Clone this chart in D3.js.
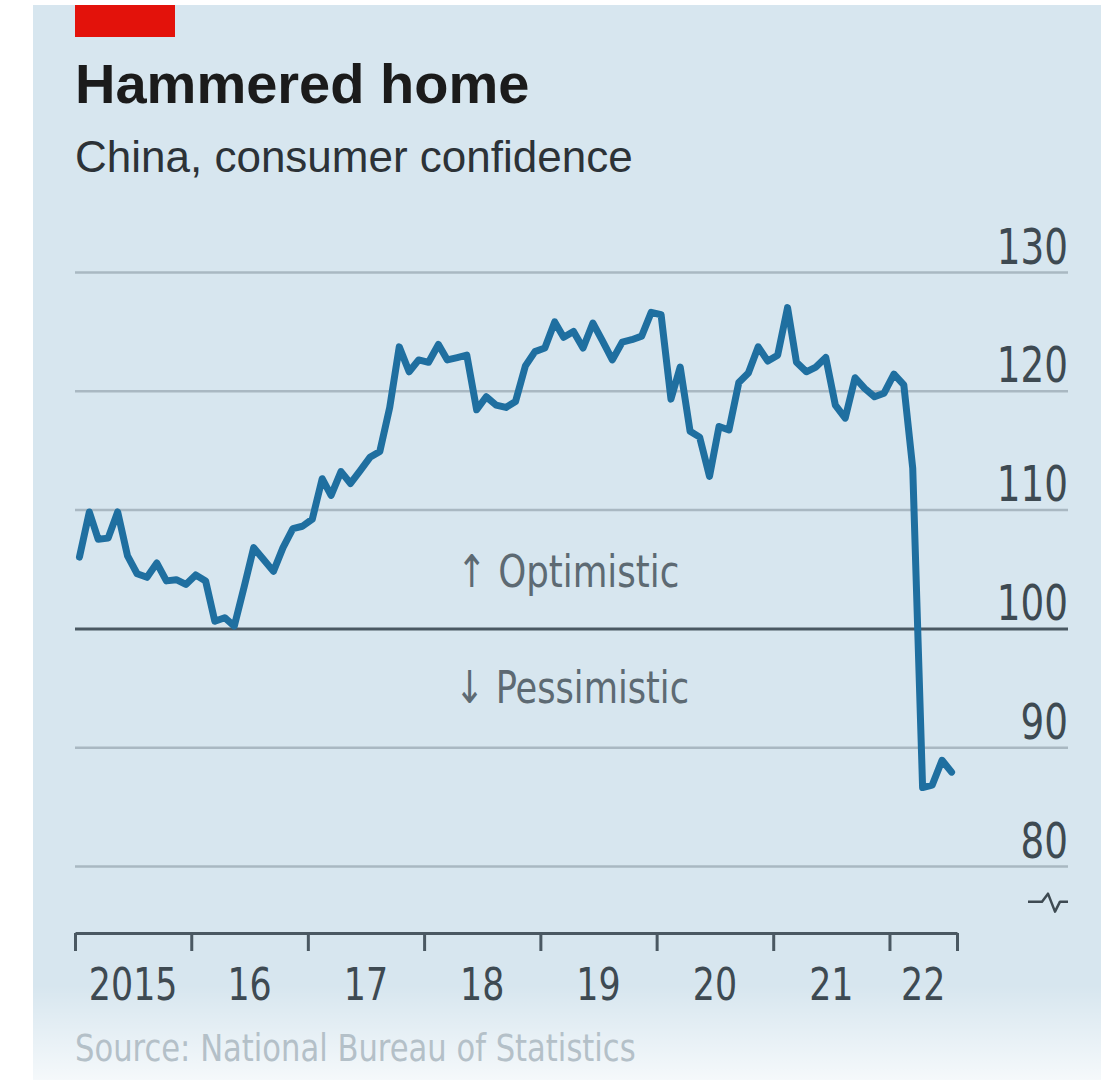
<!DOCTYPE html>
<html>
<head>
<meta charset="utf-8">
<script src="https://cdn.jsdelivr.net/npm/d3@7"></script>
<style>
  html, body { margin: 0; padding: 0; background: #ffffff; }
  #chart { width: 1101px; height: 1080px; }
  .narrow { font-family: 'Liberation Sans Narrow', 'DejaVu Sans Condensed', 'Liberation Sans', sans-serif; }
</style>
</head>
<body>
<div id="chart"></div>
<script>
// monthly index, Jan 2015 onwards
const startMonth = "2015-01";
const confidence2015 = [106.0, 109.8, 107.5, 107.6, 109.8, 106.1, 104.6, 104.3, 105.5, 104.0, 104.1, 103.7];
const confidence2016 = [104.5, 104.0, 100.6, 100.9, 100.2, 103.5, 106.8, 105.8, 104.8, 106.8, 108.4, 108.6];
const confidence2017 = [109.2, 112.6, 111.2, 113.2, 112.2, 113.3, 114.4, 114.9, 118.6, 123.7, 121.6, 122.6];
const confidence2018 = [122.4, 123.9, 122.6, 122.8, 123.0, 118.4, 119.5, 118.8, 118.6, 119.1, 122.1, 123.3];
const confidence2019 = [123.6, 125.8, 124.5, 125.0, 123.6, 125.7, 124.2, 122.6, 124.1, 124.3, 124.6, 126.6];
const confidence2020 = [126.4, 119.3, 122.0, 116.6, 116.1, 112.8, 117.0, 116.7, 120.7, 121.5, 123.7, 122.5];
const confidence2021 = [123.0, 127.0, 122.4, 121.6, 122.0, 122.8, 118.8, 117.7, 121.1, 120.2, 119.5, 119.8];
const confidence2022 = [121.4, 120.5, 113.5, 86.6, 86.8, 88.9, 87.9];

const yTicks = [80, 90, 100, 110, 120, 130];
const yearTicks = ["2015", "2016", "2017", "2018", "2019", "2020", "2021", "2022"];
const yearLabels = ["2015", "16", "17", "18", "19", "20", "21", "22"];
const axisEnd = "2022-08";

const title = "Hammered home";
const subtitle = "China, consumer confidence";
const source = "Source: National Bureau of Statistics";

const parseMonth = d3.timeParse("%Y-%m");
const values = [].concat(confidence2015, confidence2016, confidence2017, confidence2018,
  confidence2019, confidence2020, confidence2021, confidence2022);
// each reading sits mid-month
const series = values.map((v, i) => ({
  date: d3.timeDay.offset(d3.timeMonth.offset(parseMonth(startMonth), i), 14),
  value: v
}));

const W = 1101, H = 1080;
const plot = { left: 75, right: 1068, axisRight: 957, top: 272, bottom: 866, xAxisY: 933 };
// the original uses a condensed face; squeeze the fallback horizontally
const squeeze = 0.83;

const svg = d3.select("#chart").append("svg")
  .attr("width", W)
  .attr("height", H)
  .attr("viewBox", `0 0 ${W} ${H}`);

const defs = svg.append("defs");
const fade = defs.append("linearGradient")
  .attr("id", "fade").attr("x1", 0).attr("y1", 0).attr("x2", 0).attr("y2", 1);
fade.append("stop").attr("offset", "0%").attr("stop-color", "#ffffff").attr("stop-opacity", 0);
fade.append("stop").attr("offset", "100%").attr("stop-color", "#ffffff").attr("stop-opacity", 0.75);

// panel
svg.append("rect")
  .attr("x", 33).attr("y", 5)
  .attr("width", W - 33).attr("height", H - 5)
  .attr("fill", "#d7e6ef");
svg.append("rect")
  .attr("x", 33).attr("y", 985)
  .attr("width", W - 33).attr("height", H - 985)
  .attr("fill", "url(#fade)");

// red tag
svg.append("rect")
  .attr("x", 75).attr("y", 5)
  .attr("width", 100).attr("height", 32)
  .attr("fill", "#e3120b");

svg.append("text")
  .attr("x", 75).attr("y", 103)
  .attr("font-family", "'Liberation Sans', Arial, sans-serif")
  .attr("font-weight", "bold")
  .attr("font-size", 56)
  .attr("fill", "#1b1b1b")
  .text(title);

svg.append("text")
  .attr("x", 75).attr("y", 172)
  .attr("font-family", "'Liberation Sans', Arial, sans-serif")
  .attr("font-size", 44)
  .attr("fill", "#2c3237")
  .text(subtitle);

// scales
const x = d3.scaleTime()
  .domain([parseMonth(startMonth), parseMonth(axisEnd)])
  .range([plot.left, plot.axisRight]);

const y = d3.scaleLinear()
  .domain([80, 130])
  .range([plot.bottom, plot.top]);

// y axis on the right, gridlines stretched left
const yAxis = svg.append("g")
  .attr("class", "y-axis narrow")
  .attr("transform", `translate(${plot.right},0)`)
  .call(d3.axisRight(y)
    .tickValues(yTicks)
    .tickSize(-(plot.right - plot.left))
    .tickPadding(0));

yAxis.select(".domain").remove();
yAxis.selectAll(".tick line")
  .attr("stroke", d => d === 100 ? "#4a5862" : "#a9b8c2")
  .attr("stroke-width", d => d === 100 ? 3 : 2.5);
yAxis.selectAll(".tick text")
  .attr("x", 0)
  .attr("y", -9)
  .attr("dy", 0)
  .attr("transform", `scale(${squeeze},1)`)
  .attr("text-anchor", "end")
  .attr("font-size", 50)
  .attr("font-family", null)
  .attr("fill", "#3e4a52");

// axis break mark under the 80 label
const bx = plot.right, by = y(77);
svg.append("path")
  .attr("d", `M${bx - 40},${by} L${bx - 26},${by} L${bx - 20},${by - 8} L${bx - 13},${by + 10} L${bx - 8},${by} L${bx},${by}`)
  .attr("fill", "none")
  .attr("stroke", "#3e4a52")
  .attr("stroke-width", 2.5)
  .attr("stroke-linejoin", "round");

// optimistic / pessimistic labels
svg.append("text")
  .attr("class", "narrow")
  .attr("transform", "translate(457,587) scale(0.88,1)")
  .attr("font-size", 45)
  .attr("fill", "#5d6a73")
  .text("\u2191 Optimistic");

svg.append("text")
  .attr("class", "narrow")
  .attr("transform", "translate(455,703) scale(0.87,1)")
  .attr("font-size", 45)
  .attr("fill", "#5d6a73")
  .text("\u2193 Pessimistic");

// x axis
const tickDates = yearTicks.map(d => d3.timeParse("%Y")(d)).concat([parseMonth(axisEnd)]);
const xAxis = svg.append("g")
  .attr("class", "x-axis")
  .attr("transform", `translate(0,${plot.xAxisY})`)
  .call(d3.axisBottom(x)
    .tickValues(tickDates)
    .tickSize(18)
    .tickSizeOuter(0)
    .tickFormat(""));

xAxis.select(".domain").attr("stroke", "#4a5862").attr("stroke-width", 3);
xAxis.selectAll(".tick line").attr("stroke", "#4a5862").attr("stroke-width", 3);

svg.append("g")
  .attr("class", "narrow")
  .selectAll("text")
  .data(yearLabels)
  .enter()
  .append("text")
  .attr("transform", (d, i) =>
    `translate(${(x(tickDates[i]) + x(tickDates[i + 1])) / 2},1000) scale(0.88,1)`)
  .attr("text-anchor", "middle")
  .attr("font-size", 44)
  .attr("fill", "#3e4a52")
  .text(d => d);

// the line
const line = d3.line()
  .x(d => x(d.date))
  .y(d => y(d.value));

svg.append("path")
  .datum(series)
  .attr("d", line)
  .attr("fill", "none")
  .attr("stroke", "#1f6fa0")
  .attr("stroke-width", 7)
  .attr("stroke-linejoin", "round")
  .attr("stroke-linecap", "round");

svg.append("text")
  .attr("class", "narrow")
  .attr("transform", "translate(75,1061) scale(0.92,1)")
  .attr("font-size", 37)
  .attr("fill", "#b4c0c8")
  .text(source);
</script>
</body>
</html>
